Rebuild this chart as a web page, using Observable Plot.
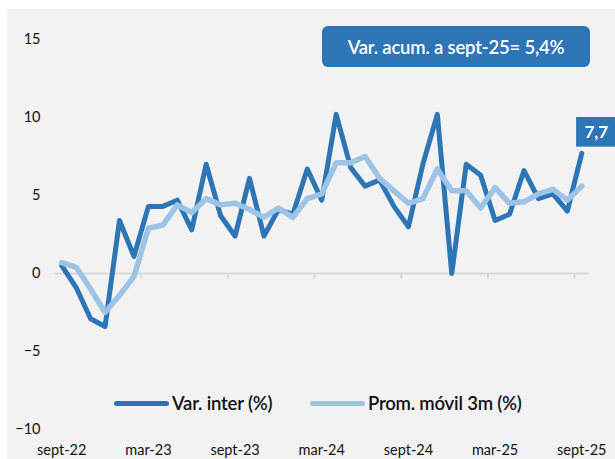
<!DOCTYPE html>
<html><head><meta charset="utf-8">
<script src="https://cdn.jsdelivr.net/npm/d3@7"></script>
<script src="https://cdn.jsdelivr.net/npm/@observablehq/plot@0.6"></script>
<style>
body{margin:0;background:#fff;font-family:Lato,"Open Sans",sans-serif;}
#wrap{position:relative;width:615px;height:459px;overflow:hidden}
#bg{position:absolute;left:7px;top:9px;right:0;bottom:0;background:#f2f2f2}
#chart{position:absolute;left:0;top:0}
#box{position:absolute;left:322px;top:26px;width:268px;height:41px;background:#2e75b6;border-radius:6px;color:#fff;font-size:18.5px;font-weight:600;display:flex;align-items:center;justify-content:center;letter-spacing:-0.2px}
.leg{position:absolute;top:392px;height:22px;display:flex;align-items:center;font-size:18.5px;font-weight:600;color:#111;letter-spacing:-0.2px}
.sw{width:55px;height:5px;border-radius:3px;margin-right:3px}
</style></head>
<body>
<div id="wrap">
<div id="bg"></div>
<div id="chart"></div>
<div id="box">Var. acum. a sept-25= 5,4%</div>
<div class="leg" style="left:114px"><span class="sw" style="background:#2e75b6"></span>Var. inter (%)</div>
<div class="leg" style="left:310px"><span class="sw" style="background:#9dc3e6"></span>Prom. móvil 3m (%)</div>
</div>
<script>
const months = ["sept-22","oct-22","nov-22","dic-22","ene-23","feb-23","mar-23","abr-23","may-23","jun-23","jul-23","ago-23",
"sept-23","oct-23","nov-23","dic-23","ene-24","feb-24","mar-24","abr-24","may-24","jun-24","jul-24","ago-24",
"sept-24","oct-24","nov-24","dic-24","ene-25","feb-25","mar-25","abr-25","may-25","jun-25","jul-25","ago-25","sept-25"];
const varInter = [0.5,-0.9,-2.9,-3.4,3.4,1.1,4.3,4.3,4.7,2.8,7.0,3.7,2.4,6.1,2.4,4.1,3.8,6.7,4.7,10.2,6.8,5.6,6.0,4.3,3.0,7.0,10.2,0.0,7.0,6.3,3.4,3.8,6.6,4.8,5.1,4.0,7.7];
const promMovil = [0.7,0.4,-1.0,-2.5,-1.4,-0.2,2.9,3.1,4.4,3.9,4.8,4.4,4.5,4.1,3.6,4.2,3.6,4.8,5.1,7.1,7.1,7.5,6.1,5.3,4.5,4.8,6.7,5.3,5.3,4.2,5.5,4.5,4.6,5.1,5.4,4.7,5.6];
const xTickIdx = [0,6,12,18,24,30,36];
const yTicks = [-10,-5,0,5,10,15];

const data = months.map((m,i)=>({i, m, v: varInter[i], p: promMovil[i]}));
const last = data[data.length-1];
const boundaries = xTickIdx.slice(1).map(i=>i-0.5);

const chart = Plot.plot({
  width:615, height:459,
  marginTop:39, marginBottom:30, marginLeft:54, marginRight:26.5,
  style:{background:"transparent", fontFamily:"Lato, 'Open Sans', sans-serif", fontSize:"14px", color:"#111"},
  x:{domain:[-0.5,36.5]},
  y:{domain:[-10,15]},
  marks:[
    Plot.ruleY([0],{stroke:"#d9d9d9",strokeWidth:2}),
    Plot.ruleX(boundaries,{y1:0,y2:-0.35,stroke:"#d9d9d9",strokeWidth:2}),
    Plot.axisY({ticks:yTicks, tickSize:0, tickPadding:14, label:null, fontSize:14.5}),
    Plot.axisX({ticks:xTickIdx, tickFormat:i=>months[i], tickSize:0, tickPadding:15, label:null, fontSize:14.5}),
    Plot.line(data,{x:"i",y:"v",stroke:"#2e75b6",strokeWidth:5}),
    Plot.line(data,{x:"i",y:"p",stroke:"#9dc3e6",strokeWidth:5.5}),
    Plot.rect([last],{x1:d=>d.i-0.36,x2:d=>d.i+2.4,y1:d=>d.v+0.4,y2:d=>d.v+2.3,fill:"#2e75b6"}),
    Plot.text([last],{x:d=>d.i+1.0,y:d=>d.v+1.35,text:d=>d.v.toFixed(1).replace(".",","),fill:"#fff",fontWeight:"bold",fontSize:17})
  ]
});
document.getElementById("chart").appendChild(chart);
</script>
</body></html>
